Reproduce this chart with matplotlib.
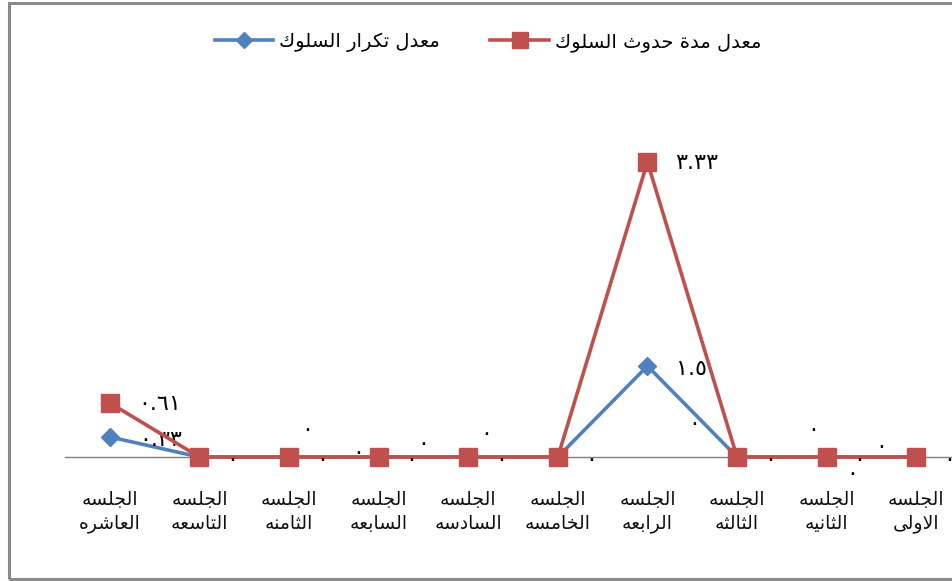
import matplotlib
matplotlib.use("Agg")
import matplotlib.pyplot as plt
from matplotlib.patches import Rectangle

# ---------------- data ----------------
sessions = ["الجلسه\nالاولى", "الجلسه\nالثانيه", "الجلسه\nالثالثه", "الجلسه\nالرابعه",
            "الجلسه\nالخامسه", "الجلسه\nالسادسه", "الجلسه\nالسابعه", "الجلسه\nالثامنه",
            "الجلسه\nالتاسعه", "الجلسه\nالعاشره"]
duration = [0, 0, 0, 3.33, 0, 0, 0, 0, 0, 0.61]      # معدل مدة حدوث السلوك
frequency = [0, 0, 0, 1.5, 0, 0, 0, 0, 0, 0.33]      # معدل تكرار السلوك
duration_name = "معدل مدة حدوث السلوك"
frequency_name = "معدل تكرار السلوك"

# ---------------- Arabic shaping (contextual forms + visual order) ----------------
DUAL = {'ب': 0xFE8F, 'ت': 0xFE95, 'ث': 0xFE99, 'ج': 0xFE9D, 'ح': 0xFEA1, 'خ': 0xFEA5,
        'س': 0xFEB1, 'ش': 0xFEB5, 'ص': 0xFEB9, 'ض': 0xFEBD, 'ط': 0xFEC1, 'ظ': 0xFEC5,
        'ع': 0xFEC9, 'غ': 0xFECD, 'ف': 0xFED1, 'ق': 0xFED5, 'ك': 0xFED9, 'ل': 0xFEDD,
        'م': 0xFEE1, 'ن': 0xFEE5, 'ه': 0xFEE9, 'ي': 0xFEF1}
RIGHT = {'ا': 0xFE8D, 'ة': 0xFE93, 'د': 0xFEA9, 'ذ': 0xFEAB, 'ر': 0xFEAD, 'ز': 0xFEAF,
         'و': 0xFEED, 'ى': 0xFEEF, 'LA': 0xFEFB}


def shape_line(s):
    toks = []
    i = 0
    while i < len(s):
        if s[i] == 'ل' and i + 1 < len(s) and s[i + 1] == 'ا':
            toks.append('LA')
            i += 2
        else:
            toks.append(s[i])
            i += 1
    out = []
    n = len(toks)
    for i, c in enumerate(toks):
        prev_j = i > 0 and toks[i - 1] in DUAL
        next_j = i + 1 < n and (toks[i + 1] in DUAL or toks[i + 1] in RIGHT)
        if c in DUAL:
            b = DUAL[c]
            if prev_j and next_j:
                out.append(chr(b + 3))
            elif prev_j:
                out.append(chr(b + 1))
            elif next_j:
                out.append(chr(b + 2))
            else:
                out.append(chr(b))
        elif c in RIGHT:
            out.append(chr(RIGHT[c] + (1 if prev_j else 0)))
        else:
            out.append(c)
    return ''.join(out)[::-1]


def ar(s):
    return '\n'.join(shape_line(line) for line in s.split('\n'))


def ar_num(v):
    txt = ('%g' % v)
    return ''.join(chr(0x0660 + int(ch)) if ch.isdigit() else ch for ch in txt)


# ---------------- figure ----------------
W, H = 953, 581
fig = plt.figure(figsize=(W / 100, H / 100), dpi=100)
plt.rcParams['font.family'] = ['DejaVu Sans']

fig.patches.append(Rectangle((9 / W, 2 / H), 1.2, 1 - 5 / H, transform=fig.transFigure,
                             fill=False, edgecolor='#8a8a8a', linewidth=2.2))

ax_left, ax_right, ax_top, ax_bot = 65, 953, 100, 457
ax = fig.add_axes([ax_left / W, 1 - ax_bot / H, (ax_right - ax_left) / W, (ax_bot - ax_top) / H])
ax2 = ax.twinx()

x = list(range(len(sessions)))
RED = '#C0504D'
BLUE = '#4F81BD'

red_px = 295 / 3.33
blue_px = 91 / 1.5
ax.set_ylim(0, (ax_bot - ax_top) / red_px)
ax2.set_ylim(0, (ax_bot - ax_top) / blue_px)
ax.set_xlim(9.5, -0.41)

l_red, = ax.plot(x, duration, color=RED, lw=2.6, marker='s', ms=13, mfc=RED, mec=RED,
                 clip_on=False, zorder=4)
l_blue, = ax2.plot(x, frequency, color=BLUE, lw=2.6, marker='D', ms=9.5, mfc=BLUE, mec=BLUE,
                   clip_on=False, zorder=3)
ax.set_zorder(2)
ax2.set_zorder(1)
ax.patch.set_visible(False)

for a in (ax, ax2):
    for sp in a.spines.values():
        sp.set_visible(False)
    a.set_yticks([])
ax.spines['bottom'].set_visible(True)
ax.spines['bottom'].set_color('#808080')
ax.spines['bottom'].set_linewidth(1)
ax.spines['bottom'].set_zorder(1)

ax.set_xticks(x)
ax.set_xticklabels([ar(s) for s in sessions], fontsize=13.5, color='#111111')
ax.tick_params(axis='x', length=0, pad=24)
for t in ax.get_xticklabels():
    t.set_linespacing(1.3)

# data labels
fs_lab = 16
for i, v in enumerate(duration):
    if v != 0:
        ax.annotate(ar_num(v), (i, v), xytext=(28, -1), textcoords='offset pixels',
                    ha='left', va='center', fontsize=fs_lab, annotation_clip=False, zorder=6)
    else:
        ax.annotate(ar_num(v), (i, v), xytext=(33, -3), textcoords='offset pixels',
                    ha='center', va='center', fontsize=fs_lab, annotation_clip=False, zorder=6)

blue_zero_offsets = {0: (-35, 13), 1: (26, -14), 2: (76, 30), 4: (136, 36),
                     5: (18, 26), 6: (45, 16), 7: (69, 7), 8: (108, 30)}
for i, v in enumerate(frequency):
    if v != 0:
        ax2.annotate(ar_num(v), (i, v), xytext=(29, -3), textcoords='offset pixels',
                     ha='left', va='center', fontsize=fs_lab, annotation_clip=False, zorder=6)
    else:
        dx, dy = blue_zero_offsets.get(i, (20, 20))
        ax2.annotate(ar_num(v), (i, v), xytext=(dx, dy - 3), textcoords='offset pixels',
                     ha='center', va='center', fontsize=fs_lab, annotation_clip=False, zorder=6)

fig.legend([l_blue, l_red], [ar(frequency_name), ar(duration_name)],
           loc='center', bbox_to_anchor=(488 / W, 1 - 42 / H), ncol=2, frameon=False,
           fontsize=14, handlelength=3.0, handletextpad=0.3, columnspacing=2.6,
           markerscale=0.85)

fig.savefig('out.png', dpi=100)
